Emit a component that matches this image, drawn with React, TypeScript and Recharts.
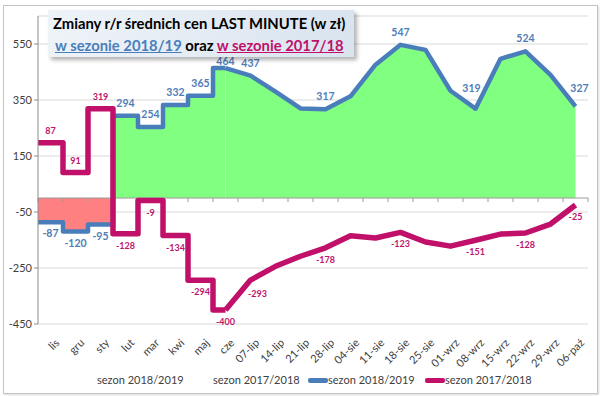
import React from 'react'
import {
  ComposedChart,
  Area,
  Line,
  XAxis,
  YAxis,
  CartesianGrid,
  ReferenceLine,
  LabelList,
} from 'recharts'

const categories = [
  'lis', 'gru', 'sty', 'lut', 'mar', 'kwi', 'maj', 'cze',
  '07-lip', '14-lip', '21-lip', '28-lip', '04-sie', '11-sie', '18-sie', '25-sie',
  '01-wrz', '08-wrz', '15-wrz', '22-wrz', '29-wrz', '06-paź',
]
const season1819 = [
  -87, -120, -95, 294, 254, 332, 365, 464,
  437, 380, 320, 317, 363, 476, 547, 529,
  383, 319, 497, 524, 440, 327,
]
const season1718 = [
  197, 91, 319, -128, -9, -134, -294, -400,
  -293, -244, -208, -178, -135, -143, -123, -157,
  -172, -151, -129, -125, -93, -25,
]
const labels1819 = [
  '-87', '-120', '-95', '294', '254', '332', '365', '464',
  '437', null, null, '317', null, null, '547', null,
  null, '319', null, '524', null, '327',
]
const labels1718 = [
  '87', '91', '319', '-128', '-9', '-134', '-294', '-400',
  '-293', null, null, '-178', null, null, '-123', null,
  null, '-151', null, '-128', null, '-25',
]
// first months are monthly values (drawn as steps), the rest weekly
const monthlyCount = 8
const yTicks = [-450, -250, -50, 150, 350, 550]

const BLUE = '#4a7ebb'
const PINK = '#c0106a'
const GREEN = '#80ff80'
const RED = '#ff8080'
const FONT = 'Lato, "Open Sans", sans-serif'

// title box (labels are kept below it, like Excel does)
const TITLE = { left: 48, top: 10, width: 306, height: 47 }

// hand-moved labels (px), so they clear the line like in the original
const nudge1819: Record<number, [number, number]> = { 17: [-4, -8], 21: [4, -5] }
const nudge1718: Record<number, [number, number]> = { 8: [7, 2] }

const rows = [
  { x: -0.5, aStep: season1819[0], bStep: season1718[0] },
  ...categories.map((_, i) => ({
    x: i,
    aStep: i < monthlyCount ? season1819[i] : undefined,
    bStep: i < monthlyCount ? season1718[i] : undefined,
    aLine: i >= monthlyCount - 1 ? season1819[i] : undefined,
    bLine: i >= monthlyCount - 1 ? season1718[i] : undefined,
    aAll: season1819[i],
    bAll: season1718[i],
    aLbl: labels1819[i],
    bLbl: labels1718[i],
    idx: i,
  })),
]

const stepVals = season1819.slice(0, monthlyCount)
const stepTop = Math.max(0, ...stepVals)
const stepBottom = Math.min(0, ...stepVals)
const zeroOffset = stepTop / (stepTop - stepBottom)

function makeLabel(color: string, size: number, up: number, down: number, nudge: Record<number, [number, number]>) {
  return (props: any) => {
    const { value } = props
    if (value == null) return null
    const x = props.x ?? props.viewBox?.x
    const y = props.y ?? props.viewBox?.y
    if (x == null || y == null) return null
    // index 0 is the lead row of the step lines
    const [ndx, ndy] = nudge[(props.index ?? 0) - 1] ?? [0, 0]
    const neg = String(value).startsWith('-')
    let ty = neg ? y + down : y - up
    const underTitle = x > TITLE.left && x < TITLE.left + TITLE.width
    if (!neg && underTitle) ty = Math.max(ty, TITLE.top + TITLE.height + size * 0.75)
    return (
      <text
        x={x + ndx}
        y={ty + ndy}
        textAnchor="middle"
        fill={color}
        fontSize={size}
        fontWeight={700}
        fontFamily={FONT}
      >
        {value}
      </text>
    )
  }
}

const zeroAxis = (props: any) => {
  const { x1, x2, y1 } = props
  const n = categories.length
  return (
    <g>
      <line x1={x1} x2={x2} y1={y1} y2={y1} stroke="#9a9a9a" strokeWidth={1} />
      {Array.from({ length: n + 1 }, (_, k) => {
        const tx = x1 + ((x2 - x1) * k) / n
        return <line key={k} x1={tx} x2={tx} y1={y1} y2={y1 + 4} stroke="#9a9a9a" />
      })}
    </g>
  )
}

function LegendRow() {
  const text = { fontSize: 11, color: '#404040', fontFamily: FONT, lineHeight: '14px' }
  const item = (left: number, label: string, c?: string) => (
    <div style={{ position: 'absolute', left, top: 0, display: 'flex', alignItems: 'center', whiteSpace: 'nowrap' }}>
      {c && <span style={{ display: 'inline-block', width: 20, height: 5, background: c, borderRadius: 2 }} />}
      <span>{label}</span>
    </div>
  )
  return (
    <div style={{ position: 'absolute', left: 0, top: 373, width: 600, height: 14, ...text }}>
      {item(97, 'sezon 2018/2019')}
      {item(213, 'sezon 2017/2018')}
      {item(308, 'sezon 2018/2019', BLUE)}
      {item(425, 'sezon 2017/2018', PINK)}
    </div>
  )
}

export default function App() {
  return (
    <div style={{ position: 'absolute', left: 0, top: 0, width: 600, height: 396, background: '#fff', fontFamily: FONT }}>
      <div
        style={{
          position: 'absolute',
          left: 3,
          top: 5,
          width: 593,
          height: 387,
          border: '1px solid #c4c4c4',
          boxShadow: '1px 1px 2px rgba(0,0,0,0.15)',
        }}
      />
      <ComposedChart
        width={600}
        height={396}
        data={rows}
        margin={{ top: 16, right: 12, left: 0, bottom: 36 }}
      >
        <defs>
          <linearGradient id="stepFill" x1="0" y1="0" x2="0" y2="1">
            <stop offset={zeroOffset} stopColor={GREEN} />
            <stop offset={zeroOffset} stopColor={RED} />
          </linearGradient>
        </defs>
        <CartesianGrid vertical={false} stroke="#d9d9d9" />
        <XAxis
          type="number"
          dataKey="x"
          domain={[-0.5, categories.length - 0.5]}
          ticks={categories.map((_, i) => i)}
          tickFormatter={(v: number) => categories[v]}
          interval={0}
          angle={-45}
          textAnchor="end"
          axisLine={false}
          tickLine={false}
          tickSize={6}
          tickMargin={8}
          height={36}
          tick={{ fontSize: 11, fill: '#404040', fontFamily: FONT, dx: 4 }}
        />
        <YAxis
          type="number"
          domain={[-450, 650]}
          ticks={yTicks}
          width={38}
          axisLine={{ stroke: '#8c8c8c' }}
          tickLine={{ stroke: '#8c8c8c' }}
          tickSize={4}
          tick={{ fontSize: 11, fill: '#404040', fontFamily: FONT }}
        />
        <Area
          type="step"
          dataKey="aStep"
          baseValue={0}
          stroke="none"
          fill="url(#stepFill)"
          fillOpacity={1}
          isAnimationActive={false}
        />
        <Area
          type="linear"
          dataKey="aLine"
          baseValue={0}
          stroke="none"
          fill={GREEN}
          fillOpacity={1}
          isAnimationActive={false}
        />
        <ReferenceLine y={0} shape={zeroAxis} />
        <Line type="step" dataKey="aStep" stroke={BLUE} strokeWidth={4.5} strokeLinejoin="round" dot={false} activeDot={false} isAnimationActive={false} />
        <Line type="linear" dataKey="aLine" stroke={BLUE} strokeWidth={4.5} strokeLinejoin="round" dot={false} activeDot={false} isAnimationActive={false} />
        <Line type="step" dataKey="bStep" stroke={PINK} strokeWidth={5.5} strokeLinejoin="round" dot={false} activeDot={false} isAnimationActive={false} />
        <Line type="linear" dataKey="bLine" stroke={PINK} strokeWidth={5.5} strokeLinejoin="round" dot={false} activeDot={false} isAnimationActive={false} />
        <Line dataKey="aAll" stroke="none" dot={false} activeDot={false} isAnimationActive={false}>
          <LabelList dataKey="aLbl" content={makeLabel('#4f7db8', 10.5, 9, 15, nudge1819)} />
        </Line>
        <Line dataKey="bAll" stroke="none" dot={false} activeDot={false} isAnimationActive={false}>
          <LabelList dataKey="bLbl" content={makeLabel('#c0146c', 9, 9, 15, nudge1718)} />
        </Line>
      </ComposedChart>
      <div
        style={{
          position: 'absolute',
          left: TITLE.left,
          top: TITLE.top,
          width: TITLE.width,
          height: TITLE.height,
          background: 'linear-gradient(to right, #eef3f8, #d9e4ef)',
          boxShadow: '3px 3px 4px rgba(0,0,0,0.3)',
          fontWeight: 700,
          fontSize: 14.8,
          lineHeight: '22px',
          paddingLeft: 5,
          paddingTop: 2,
          boxSizing: 'border-box',
        }}
      >
        <div style={{ color: '#000', whiteSpace: 'nowrap' }}>Zmiany r/r średnich cen LAST MINUTE (w zł)</div>
        <div style={{ whiteSpace: 'nowrap', paddingLeft: 2 }}>
          <span style={{ color: BLUE, textDecoration: 'underline' }}>w sezonie 2018/19</span>
          <span style={{ color: '#000' }}> oraz </span>
          <span style={{ color: PINK, textDecoration: 'underline' }}>w sezonie 2017/18</span>
        </div>
      </div>
      <LegendRow />
    </div>
  )
}
